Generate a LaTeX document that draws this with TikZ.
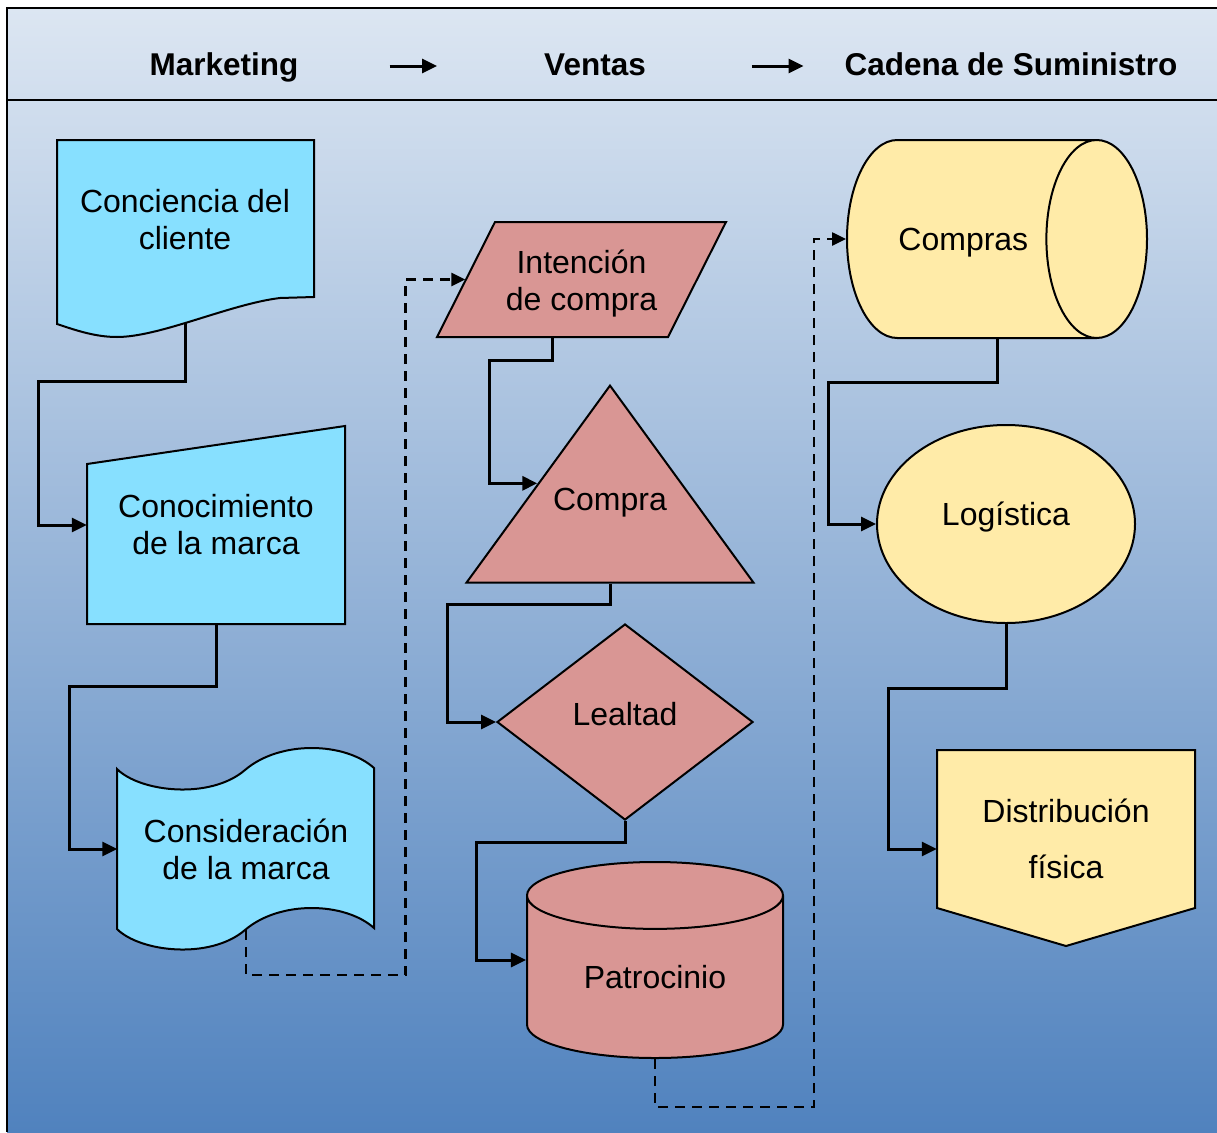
\documentclass[tikz,border=0pt]{standalone}
\usepackage{fontspec}
\setmainfont{Liberation Sans}
\usepackage{tikz}
\usetikzlibrary{shapes,arrows.meta}
\definecolor{mktcyan}{RGB}{135,224,255}
\definecolor{salesred}{RGB}{217,150,148}
\definecolor{supplyyellow}{RGB}{255,235,168}
\definecolor{bgtop}{RGB}{220,230,242}
\definecolor{bgmid}{RGB}{160,182,215}
\definecolor{bgbot}{RGB}{80,130,190}
\tikzstyle{txt} = [font=\fontsize{32}{37}\selectfont, align=center, inner sep=0pt]
\tikzstyle{head} = [font=\bfseries\fontsize{31.5}{36}\selectfont, inner sep=0pt, anchor=base]
\tikzstyle{outline} = [draw, line width=2pt]
\tikzstyle{sales} = [txt, outline, fill=salesred]
\tikzstyle{supply} = [txt, outline, fill=supplyyellow]
\tikzstyle{line} = [draw, line width=3pt, -{Triangle[length=15pt,width=14pt]}]
\tikzstyle{dline} = [draw, line width=2.5pt, dash pattern=on 10pt off 7pt, -{Triangle[length=14pt,width=13pt]}]
\begin{document}
\begin{tikzpicture}[x=1pt,y=-1pt]
\useasboundingbox (0,0) rectangle (1217,1132);
\shade[top color=bgtop, middle color=bgmid, bottom color=bgbot] (7,8) rectangle (1217,1132);
\draw[line width=2pt] (7,1132) -- (7,8) -- (1217,8);
\draw[line width=2pt] (7,100) -- (1217,100);

% header
\node[head] (mkt) at (224,75) {Marketing};
\node[head] (vta) at (595,75) {Ventas};
\node[head] (cad) at (1011,75) {Cadena de Suministro};
\path[line] ([xshift=91pt,yshift=9pt]mkt.base east) -- ([xshift=-107pt,yshift=9pt]vta.base west);
\path[line] ([xshift=106pt,yshift=9pt]vta.base east) -- ([xshift=-41pt,yshift=9pt]cad.base west);

% marketing
\draw[outline, fill=mktcyan] (57,140) -- (314,140) -- (314,297) -- (280,298) .. controls (230,304) and (160,337) .. (117,337) .. controls (95,337) and (75,330) .. (57,324) -- cycle;
\node[txt, minimum width=257, minimum height=206] (aware) at (185,220) {Conciencia del\\cliente};
\draw[outline, fill=mktcyan] (87,464) -- (345,426) -- (345,624) -- (87,624) -- cycle;
\node[txt, minimum width=258, minimum height=198] (brand) at (216,525) {Conocimiento\\de la marca};
\draw[outline, fill=mktcyan] (117,769) .. controls (140,792) and (210,800) .. (245,770) .. controls (280,740) and (345,742) .. (374,768) -- (374,928) .. controls (345,902) and (280,900) .. (245,930) .. controls (210,960) and (140,952) .. (117,929) -- cycle;
\node[txt, minimum width=257, minimum height=162] (consid) at (246,849) {Consideración\\de la marca};

% ventas
\draw[outline, fill=salesred] (437,337) -- (495,222) -- (726,222) -- (668,337) -- cycle;
\node[txt, minimum width=232, minimum height=107] (intent) at (581.5,283.5) {Intención\\de compra};
\node[sales, isosceles triangle, isosceles triangle stretches, shape border rotate=90, minimum width=287, minimum height=197, anchor=apex] (buy) at (610,383) {};
\node[txt] (buy-txt) at (610,503) {Compra};
\node[sales, diamond, minimum width=256, minimum height=196, text height=24pt, text depth=18pt] (loyal) at (625,722) {Lealtad};
\node[sales, cylinder, shape border rotate=90, aspect=0.47, minimum width=256, minimum height=196, anchor=shape center] (patron) at (655,960) {Patrocinio};
\coordinate (patron-in) at (patron.shape center -| patron.west);

% cadena de suministro
\node[supply, cylinder, aspect=4.3, minimum width=198, minimum height=300, text height=23.4pt, text depth=0pt, anchor=shape center] (purch) at (997,239) {Compras\hspace{16pt}};
\node[supply, ellipse, minimum width=258, minimum height=198, text height=24pt, text depth=22pt] (logis) at (1006,524) {Logística};
\draw[outline, fill=supplyyellow] (937,750) -- (1195,750) -- (1195,908) -- (1066,946) -- (937,908) -- cycle;
\node[txt, minimum width=258] (distrib) at (1066,839) {Distribución\\[19pt]física};

% connectors
\path[line] (aware.south) -- ++(0,58) -| ([xshift=-48pt]brand.west) -- (brand.west);
\path[line] (brand.south) -- ++(0,62) -| ([xshift=-48pt]consid.west) -- (consid.west);
\path[dline] (consid.south) -- ++(0,45) -| ([xshift=-60pt,yshift=4pt]intent.west) -- ([yshift=4pt]intent.west);
\path[line] ([xshift=-29pt]intent.south) -- ++(0,23) -| ([xshift=-48pt]buy.left side) -- (buy.left side);
\path[line] (buy.lower side) -- ++(0,21) -| ([xshift=-49pt]loyal.west) -- (loyal.west);
\path[line] (loyal.south) -- ++(0,21) -| ([xshift=-49pt]patron-in) -- (patron-in);
\path[dline] (patron.south) -- ++(0,48) -| ([xshift=-32pt]purch.west) -- (purch.west);
\path[line] (purch.shape center |- purch.south) -- ++(0,43) -| ([xshift=-48pt]logis.west) -- (logis.west);
\path[line] (logis.south) -- ++(0,64) -| ([xshift=-48pt,yshift=-10pt]distrib.west) -- ([yshift=-10pt]distrib.west);
\end{tikzpicture}
\end{document}
